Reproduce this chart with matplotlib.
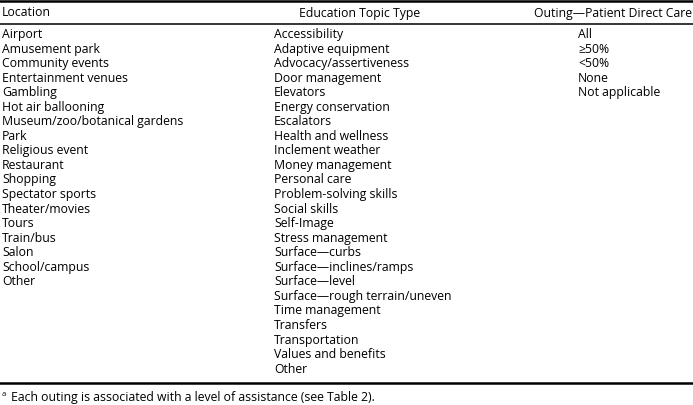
import matplotlib.pyplot as plt

# table contents
headers = ["Location", "Education Topic Type", "Outing\u2014Patient Direct Care"]
locations = ["Airport", "Amusement park", "Community events", "Entertainment venues",
             "Gambling", "Hot air ballooning", "Museum/zoo/botanical gardens", "Park",
             "Religious event", "Restaurant", "Shopping", "Spectator sports",
             "Theater/movies", "Tours", "Train/bus", "Salon", "School/campus", "Other"]
topics = ["Accessibility", "Adaptive equipment", "Advocacy/assertiveness",
          "Door management", "Elevators", "Energy conservation", "Escalators",
          "Health and wellness", "Inclement weather", "Money management",
          "Personal care", "Problem-solving skills", "Social skills", "Self-Image",
          "Stress management", "Surface\u2014curbs", "Surface\u2014inclines/ramps",
          "Surface\u2014level", "Surface\u2014rough terrain/uneven", "Time management",
          "Transfers", "Transportation", "Values and benefits", "Other"]
care_levels = ["All", "\u226550%", "<50%", "None", "Not applicable"]
footnote = "Each outing is associated with a level of assistance (see Table 2)."

W, H = 693, 406
fig = plt.figure(figsize=(W / 100, H / 100), dpi=100)
ax = fig.add_axes([0, 0, 1, 1])
ax.set_xlim(0, W)
ax.set_ylim(H, 0)
ax.axis("off")

plt.rcParams['font.family'] = ['Open Sans', 'DejaVu Sans']
fs = 8.8
col_x = [2, 274, 578]
row0, dy = 34.5, 14.55

# rules
ax.axhline(1.5, color="black", lw=1.8)
ax.axhline(25, color="black", lw=1.1)
ax.axhline(384, color="black", lw=1.8)

# headers
ax.text(col_x[0], 13, headers[0], fontsize=fs, va="center", ha="left")
ax.text(299, 13, headers[1], fontsize=fs, va="center", ha="left")
ax.text(692, 13, headers[2], fontsize=fs, va="center", ha="right")

for col, items in zip(col_x, [locations, topics, care_levels]):
    for i, s in enumerate(items):
        ax.text(col, row0 + i * dy, s, fontsize=fs, va="center", ha="left")

ax.text(2, 395, "a", fontsize=5.5, va="center", ha="left")
ax.text(11, 398, footnote, fontsize=fs, va="center", ha="left")

fig.savefig("out.png", dpi=100)
